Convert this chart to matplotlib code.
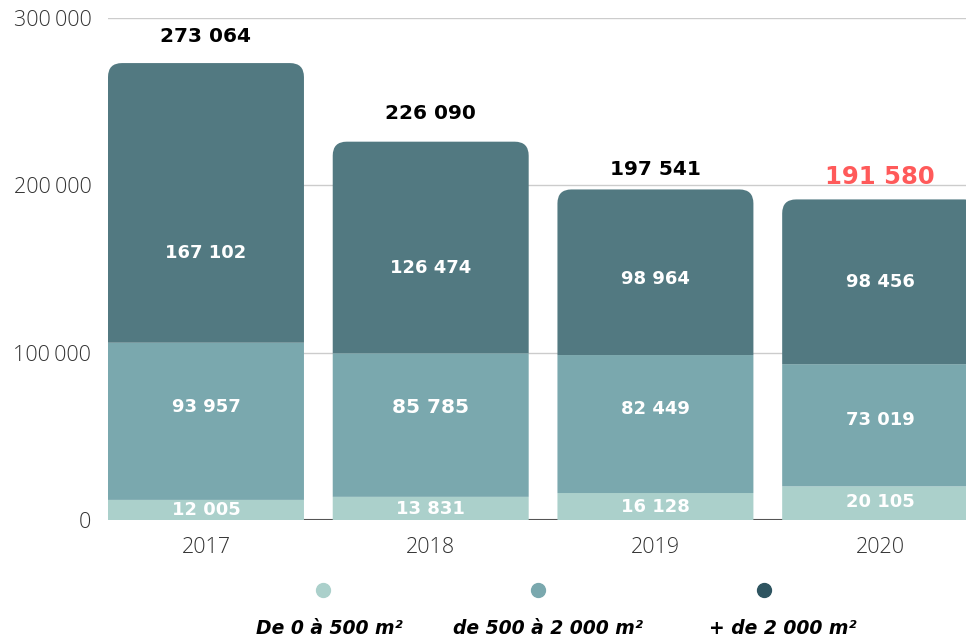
import numpy as np
import matplotlib.pyplot as plt
from matplotlib.patches import PathPatch
from matplotlib.path import Path
from matplotlib.lines import Line2D
from matplotlib.ticker import FuncFormatter

years = ["2017", "2018", "2019", "2020"]
small = [12005, 13831, 16128, 20105]       # De 0 à 500 m²
medium = [93957, 85785, 82449, 73019]      # de 500 à 2 000 m²
large = [167102, 126474, 98964, 98456]     # + de 2 000 m²
legend_labels = ["De 0 à 500 m²", "de 500 à 2 000 m²", "+ de 2 000 m²"]

c_small = "#abd0cb"
c_mid = "#7aa8ae"
c_large = "#527981"
c_dot_large = "#2e5460"

plt.rcParams['font.family'] = ['Open Sans', 'DejaVu Sans']
lab_font = ['DejaVu Sans']


def fmt(v):
    return f"{int(v):,}".replace(",", " ")


fig = plt.figure(figsize=(9.66, 6.4), dpi=100)
ax = fig.add_axes([108 / 966, 1 - 520 / 640, 1 - 108 / 966, (520 - 18) / 640])

x = np.arange(len(years))
small = np.array(small)
medium = np.array(medium)
large = np.array(large)
totals = small + medium + large
width = 0.872

ax.set_xlim(-width / 2, 3.382)
ax.set_ylim(0, 300000)

# grid
for gy in [100000, 200000, 300000]:
    ax.axhline(gy, color="#cccccc", lw=1, zorder=0)
ax.axhline(0, color="#555555", lw=1.5, zorder=0)

ax.bar(x, small, width=width, color=c_small, zorder=3, snap=False)
ax.bar(x, medium, bottom=small, width=width, color=c_mid, zorder=3, snap=False)

# top segment with rounded top corners
fig.canvas.draw()
p0 = ax.transData.transform((0, 0))
p1 = ax.transData.transform((1, 100000))
px_x = p1[0] - p0[0]
px_y = (p1[1] - p0[1]) / 100000
r_px = 14
rx = r_px / px_x
ry = r_px / px_y
for xi, b, t in zip(x, small + medium, totals):
    x0, x1 = xi - width / 2, xi + width / 2
    verts = [(x0, b), (x0, t - ry), (x0, t), (x0 + rx, t),
             (x1 - rx, t), (x1, t), (x1, t - ry), (x1, b), (x0, b)]
    codes = [Path.MOVETO, Path.LINETO, Path.CURVE3, Path.CURVE3,
             Path.LINETO, Path.CURVE3, Path.CURVE3, Path.LINETO, Path.CLOSEPOLY]
    ax.add_patch(PathPatch(Path(verts, codes), facecolor=c_large,
                           edgecolor="none", zorder=3, snap=False))

# label offsets (data units) relative to segment centres
top_off = [-30000, -12000, -4000, 0]
mid_off = [8500, 10300, 8700, 3200]
small_off = [0, -500, -500, 800]
tot_off = [16000, 17000, 12000, 13500]

for i, xi in enumerate(x):
    ax.text(xi, small[i] / 2 + small_off[i], fmt(small[i]), ha="center", va="center",
            color="white", fontsize=13, fontweight="bold", family=lab_font, zorder=5)
    ax.text(xi, small[i] + medium[i] / 2 + mid_off[i], fmt(medium[i]), ha="center",
            va="center", color="white", fontsize=13 if i != 1 else 14.5,
            fontweight="bold", family=lab_font, zorder=5)
    ax.text(xi, small[i] + medium[i] + large[i] / 2 + top_off[i], fmt(large[i]),
            ha="center", va="center", color="white", fontsize=13,
            fontweight="bold", family=lab_font, zorder=5)
    last = i == len(x) - 1
    ax.text(xi, totals[i] + tot_off[i], fmt(totals[i]), ha="center",
            va="center", color="#ff5a5a" if last else "black",
            fontsize=17.5 if last else 14.5, fontweight="bold", family=lab_font,
            zorder=5)

ax.set_xticks(x)
ax.set_xticklabels(years)
ax.set_yticks([0, 100000, 200000, 300000])
ax.yaxis.set_major_formatter(FuncFormatter(lambda v, p: f"{int(v):,}".replace(",", "\u2009")))
ax.tick_params(axis="both", length=0, labelsize=15.5, labelcolor="#333333")
ax.tick_params(axis="y", pad=12)
ax.tick_params(axis="x", pad=12)
for lbl in ax.get_xticklabels() + ax.get_yticklabels():
    lbl.set_fontweight("light")
for s in ax.spines.values():
    s.set_visible(False)

# legend
dot_x = [323, 538, 764]
text_x = [329, 548, 783]
for dx, tx, col, lab in zip(dot_x, text_x, [c_small, c_mid, c_dot_large], legend_labels):
    fig.add_artist(Line2D([dx / 966], [1 - 590 / 640], marker="o", markersize=10,
                          color=col, linestyle="none", transform=fig.transFigure))
    fig.text(tx / 966, 1 - 628 / 640, lab, ha="center", va="center",
             fontsize=13.5, fontweight="bold", style="italic", color="black",
             family=lab_font)

fig.savefig("out.png", dpi=100)
